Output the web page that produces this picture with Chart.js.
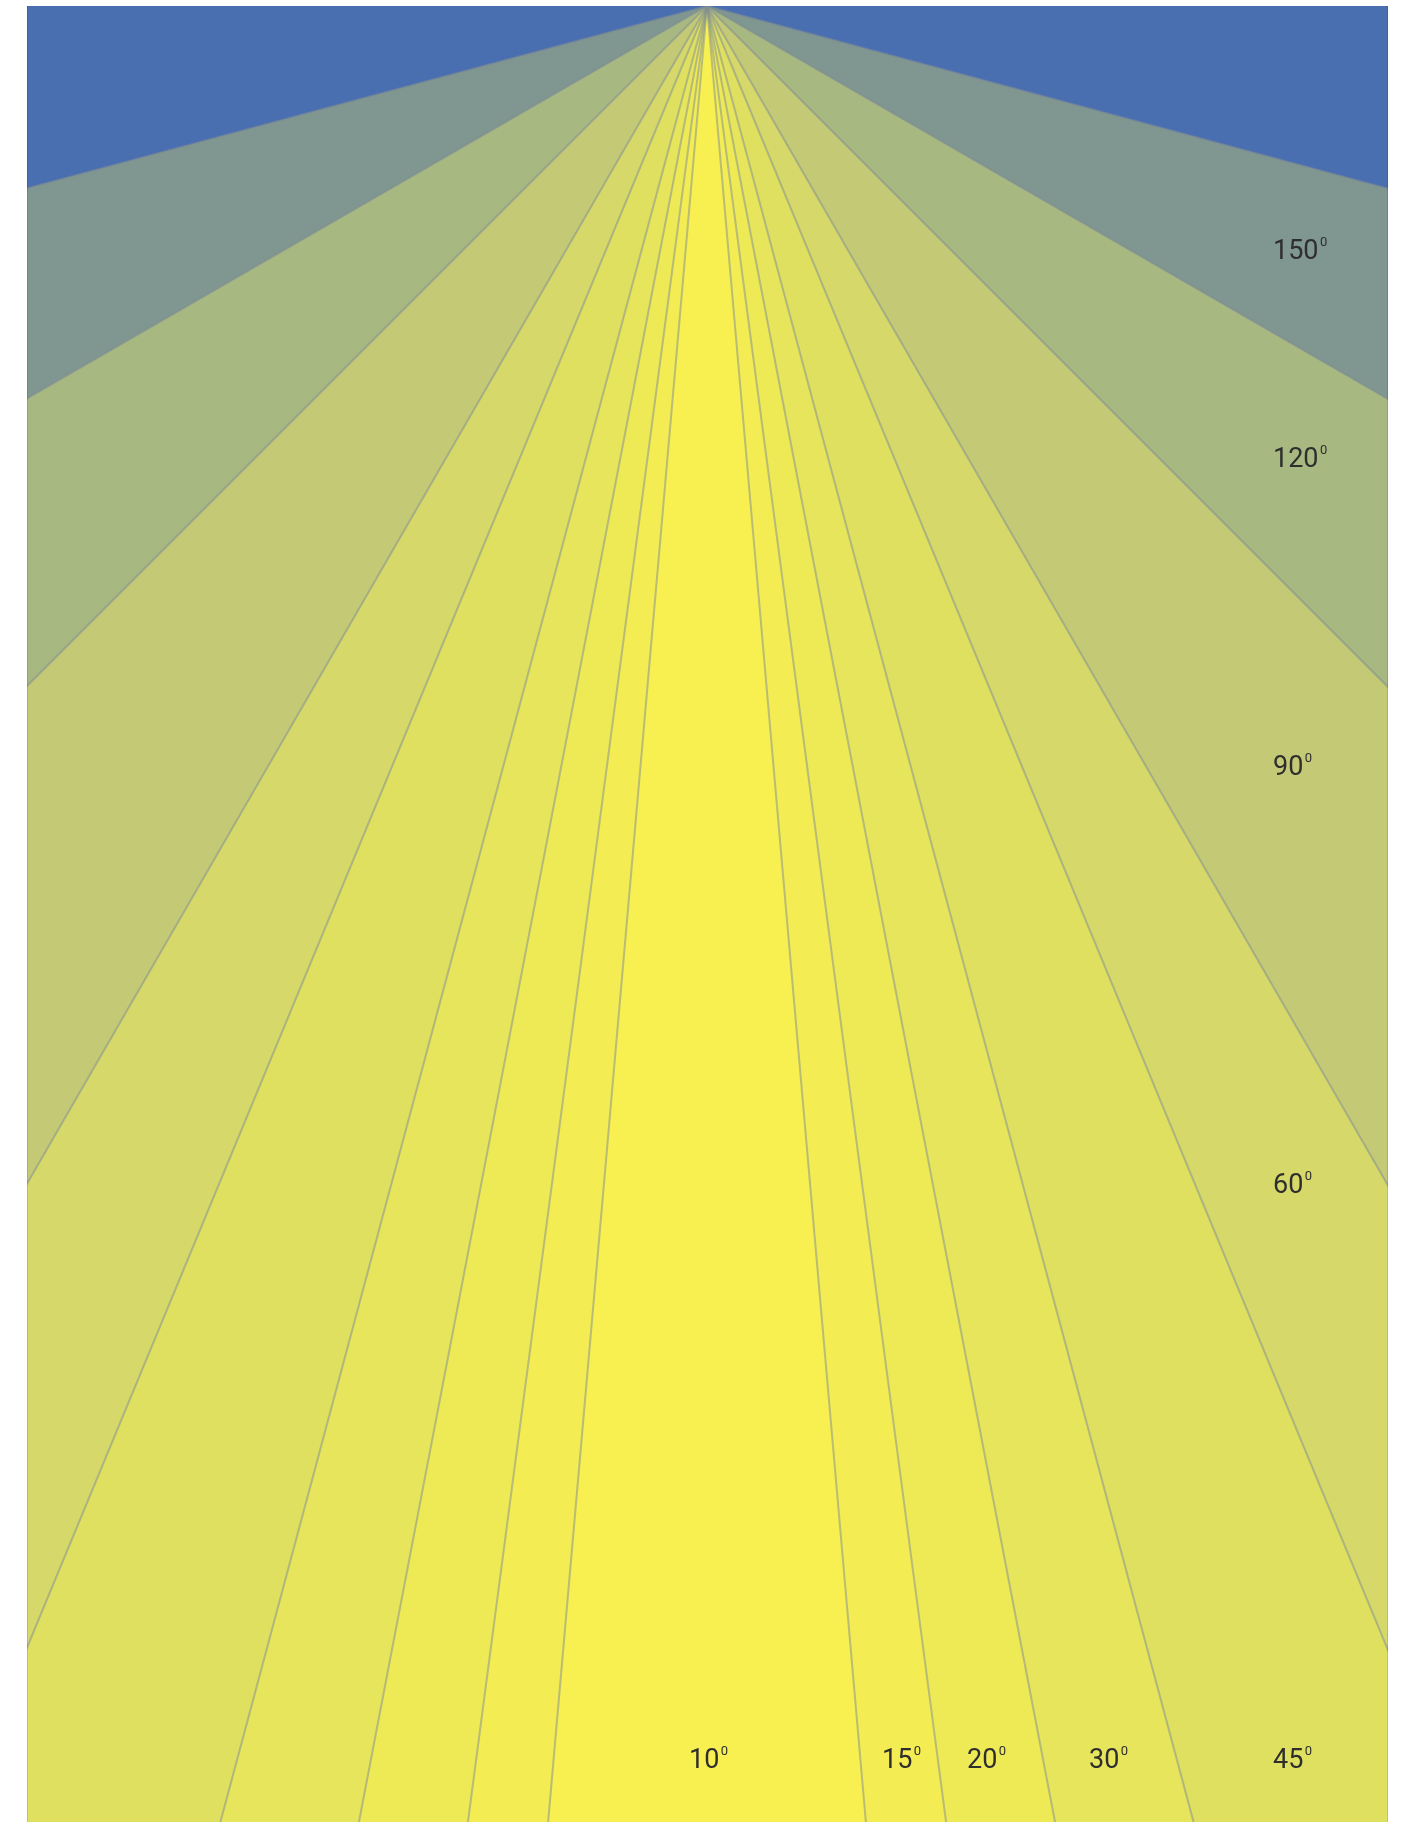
<!DOCTYPE html>
<html>
<head>
<meta charset="utf-8">
<script src="https://cdn.jsdelivr.net/npm/chart.js@4.4.1/dist/chart.umd.min.js"></script>
<style>
  html, body { margin: 0; padding: 0; background: #ffffff; }
  #wrap { width: 1404px; height: 1822px; position: relative; overflow: hidden; }
</style>
</head>
<body>
<div id="wrap"><canvas id="c" width="1404" height="1822"></canvas></div>
<script>
// ---- data ----
const beamAngles = [10, 15, 21.7, 30, 45, 60, 90, 120, 150];     // full cone angle (degrees)
const angleLabels = ['10', '15', '20', '30', '45', '60', '90', '120', '150'];
const degreeMark = '0';

// ---- layout / style (kept apart from data) ----
const labelAnchors = [   // data units: x from apex, depth from apex
  [-18, 1762], [175, 1762], [260, 1762], [382, 1762], [566, 1762],
  [566, 1187], [566, 769], [566, 461], [566, 253]
];
const bandColors = ['#F7F050', '#F3ED53', '#EEEA56', '#E7E55B', '#DFE060',
                    '#D6D969', '#C4C975', '#A8B881', '#809690'];
const outsideColor = '#4A6FB0';
const rayDepth = 6000;

const datasets = beamAngles.map((a, i) => {
  const t = Math.tan(a / 2 * Math.PI / 180);
  return {
    label: angleLabels[i],
    data: [ {x: 0, y: 0}, {x: -rayDepth * t, y: rayDepth}, {x: rayDepth * t, y: rayDepth}, {x: 0, y: 0} ],
    fill: 'shape',
    backgroundColor: bandColors[i],
    borderColor: 'rgba(125,140,150,0.5)',
    borderWidth: 2,
    pointRadius: 0,
    tension: 0
  };
});

const backgroundPlugin = {
  id: 'bg',
  beforeDraw(chart) {
    const {ctx, chartArea: a} = chart;
    ctx.save();
    ctx.fillStyle = outsideColor;
    ctx.fillRect(a.left, a.top, a.right - a.left, a.bottom - a.top);
    ctx.restore();
  },
  afterDraw(chart) {
    const {ctx, chartArea: a, scales} = chart;
    ctx.save();
    ctx.strokeStyle = 'rgba(0,0,0,0.12)';
    ctx.lineWidth = 1;
    ctx.beginPath();
    ctx.moveTo(a.left + 0.5, a.top); ctx.lineTo(a.left + 0.5, a.bottom);
    ctx.moveTo(a.right - 0.5, a.top); ctx.lineTo(a.right - 0.5, a.bottom);
    ctx.stroke();
    ctx.fillStyle = '#2e2e2e';
    ctx.textBaseline = 'alphabetic';
    ctx.textAlign = 'left';
    angleLabels.forEach((lab, i) => {
      const px = scales.x.getPixelForValue(labelAnchors[i][0]);
      const py = scales.y.getPixelForValue(labelAnchors[i][1]);
      ctx.font = '27px Roboto, "Noto Sans", sans-serif';
      ctx.fillText(lab, px, py);
      const w = ctx.measureText(lab).width;
      ctx.font = '13px Roboto, "Noto Sans", sans-serif';
      ctx.fillText(degreeMark, px + w + 1.5, py - 13);
    });
    ctx.restore();
  }
};

new Chart(document.getElementById('c'), {
  type: 'line',
  data: { datasets },
  options: {
    responsive: false,
    devicePixelRatio: 1,
    animation: false,
    layout: { padding: { left: 27, right: 16, top: 6, bottom: 0 } },
    scales: {
      x: { type: 'linear', min: -680, max: 681, display: false },
      y: { type: 'linear', min: 0, max: 1816, reverse: true, display: false }
    },
    plugins: {
      legend: { display: false },
      tooltip: { enabled: false },
      filler: { drawTime: 'beforeDatasetsDraw' }
    }
  },
  plugins: [backgroundPlugin]
});
</script>
</body>
</html>
